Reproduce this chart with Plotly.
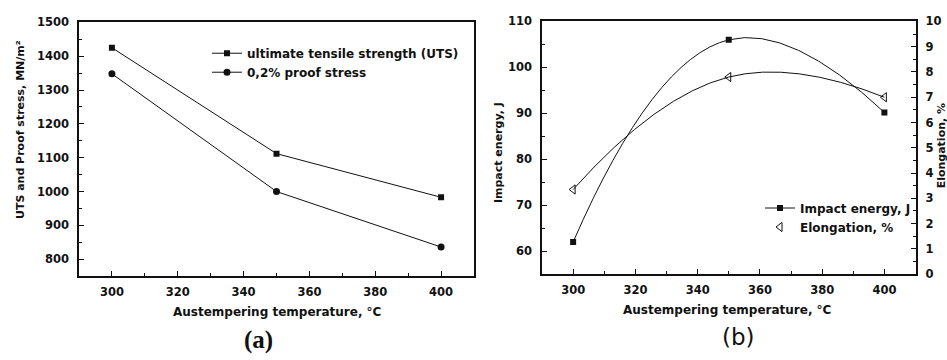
import plotly.graph_objects as go

W, H = 947, 360

temps = [300, 350, 400]
uts = [1425, 1112, 983]
proof = [1348, 1000, 836]
impact = [62, 106, 90.2]
elong = [3.35, 7.8, 7.0]

x_ticks = [300, 320, 340, 360, 380, 400]

FONT = "DejaVu Sans, Verdana, sans-serif"
INK = "#111111"

def px_x(p):
    return p / W

def px_y(p):
    return 1 - p / H

fig = go.Figure()

# Panel (a)
fig.add_trace(go.Scatter(
    x=temps, y=uts, mode="lines+markers", name="ultimate tensile strength (UTS)",
    line=dict(color=INK, width=1), marker=dict(symbol="square", size=6, color=INK),
    xaxis="x", yaxis="y", legend="legend"))
fig.add_trace(go.Scatter(
    x=temps, y=proof, mode="lines+markers", name="0,2% proof stress",
    line=dict(color=INK, width=1), marker=dict(symbol="circle", size=7, color=INK),
    xaxis="x", yaxis="y", legend="legend"))

# Panel (b)
fig.add_trace(go.Scatter(
    x=temps, y=impact, mode="lines+markers", name="Impact energy, J",
    line=dict(color=INK, width=1, shape="spline", smoothing=1.3),
    marker=dict(symbol="square", size=6, color=INK),
    xaxis="x2", yaxis="y2", legend="legend2"))
fig.add_trace(go.Scatter(
    x=temps, y=elong, mode="lines+markers", name="Elongation, %",
    line=dict(color=INK, width=1, shape="spline", smoothing=1.3),
    marker=dict(symbol="triangle-left-open", size=8, color=INK, line=dict(width=1, color=INK)),
    xaxis="x2", yaxis="y3", showlegend=False))
fig.add_trace(go.Scatter(
    x=[None], y=[None], mode="markers", name="Elongation, %",
    marker=dict(symbol="triangle-left-open", size=8, color=INK, line=dict(width=1, color=INK)),
    xaxis="x2", yaxis="y3", legend="legend2"))

tickfont = dict(family=FONT, size=11.5, color=INK, weight="bold")

common_x = dict(
    showline=True, linecolor=INK, linewidth=1.5, mirror=True,
    ticks="inside", ticklen=5, tickwidth=1.2, tickcolor=INK,
    tickmode="array", tickvals=x_ticks,
    minor=dict(ticks="inside", ticklen=3, tickcolor=INK, dtick=10, tick0=300),
    range=[290, 410], showgrid=False, zeroline=False, tickfont=tickfont,
    ticklabelstandoff=4,
)
common_y = dict(
    showline=True, linecolor=INK, linewidth=1.5,
    ticks="inside", ticklen=5, tickwidth=1.2, tickcolor=INK,
    showgrid=False, zeroline=False, tickfont=tickfont, ticklabelstandoff=6,
)

legfont = dict(family=FONT, size=12, color=INK, weight="bold")

fig.update_layout(
    width=W, height=H,
    margin=dict(l=0, r=0, t=0, b=0),
    paper_bgcolor="white", plot_bgcolor="white",
    xaxis=dict(domain=[px_x(79), px_x(474)], anchor="y", **common_x),
    yaxis=dict(domain=[px_y(280), px_y(16)], anchor="x", range=[750, 1500], mirror=True,
               tickmode="linear", tick0=800, dtick=100,
               minor=dict(ticks="inside", ticklen=3, tickcolor=INK, dtick=50), **common_y),
    xaxis2=dict(domain=[px_x(542), px_x(915.5)], anchor="y2", **common_x),
    yaxis2=dict(domain=[px_y(278), px_y(15)], anchor="x2", range=[55, 110],
                tickmode="linear", tick0=60, dtick=10,
                minor=dict(ticks="inside", ticklen=3, tickcolor=INK, dtick=5), **common_y),
    yaxis3=dict(overlaying="y2", anchor="x2", side="right", range=[0, 10],
                tickmode="linear", tick0=0, dtick=1,
                minor=dict(ticks="inside", ticklen=3, tickcolor=INK, dtick=0.5), **common_y),
    legend=dict(x=px_x(207), y=px_y(33), xanchor="left", yanchor="top",
                bgcolor="rgba(0,0,0,0)", font=legfont, tracegroupgap=0, itemwidth=30),
    legend2=dict(x=px_x(760), y=px_y(244), xanchor="left", yanchor="bottom",
                 bgcolor="rgba(0,0,0,0)", font=legfont, tracegroupgap=0, itemwidth=30),
    showlegend=True,
)

titlefont = dict(family=FONT, size=12, color=INK, weight="bold")
ytitlefont = dict(family=FONT, size=11, color=INK, weight="bold")
ann = [
    dict(text="Austempering temperature, °C", x=px_x(277), y=px_y(317), font=titlefont),
    dict(text="Austempering temperature, °C", x=px_x(727), y=px_y(315), font=titlefont),
    dict(text="UTS and Proof stress, MN/m²", x=px_x(20), y=px_y(128), textangle=-90, font=ytitlefont),
    dict(text="Impact energy, J", x=px_x(498), y=px_y(152), textangle=-90, font=ytitlefont),
    dict(text="Elongation, %", x=px_x(941), y=px_y(145), textangle=-90, font=ytitlefont),
    dict(text="(a)", x=px_x(258), y=px_y(346),
         font=dict(family="Liberation Serif, Times New Roman, serif", size=25, color=INK, weight="bold")),
    dict(text="(b)", x=px_x(738), y=px_y(343),
         font=dict(family="DejaVu Sans, sans-serif", size=23, color=INK)),
]
for a in ann:
    a.update(xref="paper", yref="paper", showarrow=False, xanchor="center", yanchor="middle")
fig.update_layout(annotations=ann)

fig.write_html("out.html")
